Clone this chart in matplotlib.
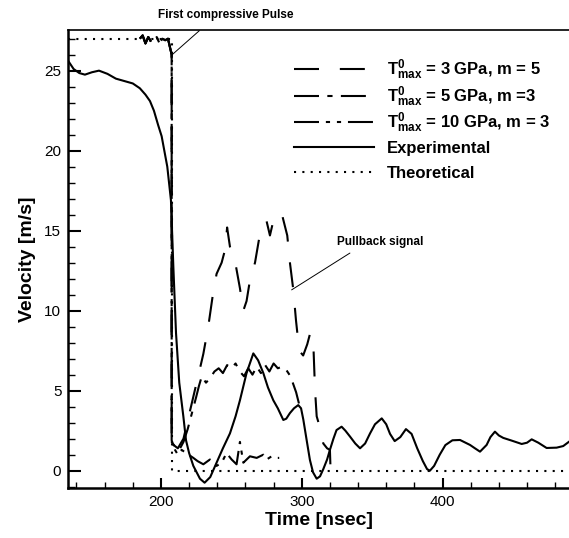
import matplotlib
matplotlib.use("Agg")
import matplotlib.pyplot as plt
from matplotlib.ticker import MultipleLocator

# Données
exp_t = [134.2, 138, 142, 146, 151, 156, 162, 168, 174, 180, 185, 189, 192.2, 195, 198,
         200.5, 204.5, 207.1, 208.8, 210.7, 213.0, 215.9, 217.8, 220, 223, 227.7, 231,
         235, 239.5, 244, 249.0, 253, 256.1, 260.8, 265.6, 269, 272.7, 276, 279.8, 283,
         286.9, 289, 291.6, 294.5, 297.5, 299.5, 301.1, 303.5, 305.8, 308, 310.6, 313,
         315.3, 318, 320.0, 322.5, 324.7, 328.3, 331, 334.3, 338, 341.4, 345, 348.5, 352,
         356.8, 360, 362.7, 366, 370, 374, 378, 382, 386, 389, 391, 394, 398, 402, 407,
         412.4, 419.5, 423, 426.6, 431.3, 434, 437.2, 440, 443.1, 449.1, 456.2, 460,
         463.3, 468.0, 473.9, 481.0, 485.7, 489.8]
exp_v = [25.6, 25.1, 24.85, 24.75, 24.9, 25.0, 24.8, 24.5, 24.35, 24.2, 23.9, 23.5, 23.1,
         22.5, 21.6, 20.9, 19.0, 16.9, 12.75, 8.6, 5.5, 3.4, 1.9, 1.1, 0.3, -0.5, -0.75,
         -0.4, 0.5, 1.4, 2.33, 3.4, 4.4, 6.1, 7.33, 6.9, 6.1, 5.2, 4.4, 3.9, 3.17, 3.25,
         3.6, 3.9, 4.1, 3.9, 3.2, 1.9, 0.67, -0.1, -0.5, -0.35, 0.1, 0.7, 1.3, 2.0, 2.54,
         2.75, 2.5, 2.13, 1.7, 1.4, 1.7, 2.33, 2.9, 3.27, 2.9, 2.3, 1.85, 2.1, 2.6, 2.3,
         1.4, 0.6, 0.1, 0.0, 0.3, 1.0, 1.6, 1.9, 1.92, 1.61, 1.4, 1.19, 1.61, 2.1, 2.44,
         2.2, 2.05, 1.88, 1.67, 1.75, 1.96, 1.75, 1.42, 1.44, 1.54, 1.81]

th_t = [134.2, 207.6, 207.6, 489.8]
th_v = [27.0, 27.0, 0.0, 0.0]

top_t = [185, 187, 189, 191, 193, 195, 197, 199, 201, 203, 205, 207.6]
top_v = [27.0, 27.2, 26.7, 27.1, 26.8, 26.9, 27.1, 26.7, 27.0, 26.9, 27.0, 26.0]

t3 = top_t + [207.6, 212, 216, 220, 224, 228, 230.1, 233.6, 236.7, 239.5, 243.1, 245.5,
              247, 249, 252.6, 256.1, 258.5, 260.8, 263.2, 266.8, 270.3, 271.5, 275.0,
              277.4, 280.3, 283, 285.7, 289.7, 291.6, 294.0, 295.9, 298.2, 301, 303.9,
              306, 308.2, 309.4, 310.6, 312.9, 315.3, 318, 320.0, 320.7]
v3 = top_v + [1.7, 1.4, 2.0, 3.5, 5.0, 6.5, 7.3, 9.0, 10.9, 12.3, 13.0, 13.8, 15.2, 14.0,
              13.1, 11.4, 10.0, 10.6, 11.9, 13.0, 14.8, 15.0, 15.6, 14.7, 15.8, 15.9,
              16.1, 14.7, 13.0, 11.3, 9.4, 7.5, 7.2, 7.9, 8.6, 8.0, 5.1, 3.4, 2.7, 1.7,
              1.4, 1.3, -0.6]

t5 = top_t + [207.6, 210, 213, 216, 219, 222, 225, 227, 229, 232, 235, 238, 241, 244,
              247, 250, 253, 256, 259, 262, 265, 268, 271, 274, 277, 280, 283, 286, 289,
              292, 294, 296, 298]
v5 = top_v + [1.8, 1.5, 1.3, 1.8, 2.6, 3.6, 4.6, 5.3, 5.9, 5.5, 5.8, 6.2, 6.4, 6.1, 6.6,
              6.4, 6.7, 6.2, 5.9, 6.4, 6.0, 6.5, 6.1, 6.6, 6.2, 6.7, 6.4, 6.5, 6.3, 5.9,
              5.4, 4.9, 4.2]

t10 = top_t + [207.6, 210, 212, 214.7, 218, 223, 226, 230.1, 234.8, 239.5, 243.1, 246.6,
               250.2, 253.7, 256.1, 258.5, 263.2, 268, 272.7, 275.1, 278.6, 282.2, 284]
v10 = top_v + [1.9, 1.3, 1.0, 1.3, 1.1, 0.8, 0.6, 0.4, 0.7, 0.3, 0.5, 1.1, 0.7, 0.4, 1.8,
               0.5, 0.9, 0.8, 1.0, 0.7, 0.9, 0.8, 0.8]

model_labels = [r"T$^{0}_{max}$ = 3 GPa, m = 5",
                r"T$^{0}_{max}$ = 5 GPa, m =3",
                r"T$^{0}_{max}$ = 10 GPa, m = 3"]
ref_labels = ["Experimental", "Theoretical"]

plt.rcParams["font.family"] = ["Liberation Sans", "DejaVu Sans"]
plt.rcParams["mathtext.fontset"] = "custom"
plt.rcParams["mathtext.rm"] = "Liberation Sans:bold"
plt.rcParams["mathtext.it"] = "Liberation Sans:bold"
plt.rcParams["mathtext.bf"] = "Liberation Sans:bold"

fig = plt.figure(figsize=(5.69, 5.38), dpi=100)
ax = fig.add_axes([68.3 / 569, 49.7 / 538, 1 - 68.3 / 569, 458.3 / 538])

lw = 1.5
h3, = ax.plot(t3, v3, color="black", lw=lw, ls=(0, (12, 10)))
h5, = ax.plot(t5, v5, color="black", lw=lw, ls=(0, (12, 4, 2.5, 4)))
h10, = ax.plot(t10, v10, color="black", lw=lw, ls=(0, (12, 3.3, 2, 3.3, 2, 3.3)))
hexp, = ax.plot(exp_t, exp_v, color="black", lw=lw)
hth, = ax.plot(th_t, th_v, color="black", lw=lw, ls=(0, (1, 3)))

ax.set_xlim(134.2, 489.8)
ax.set_ylim(-1.1, 27.54)
ax.xaxis.set_major_locator(MultipleLocator(100))
ax.xaxis.set_minor_locator(MultipleLocator(20))
ax.yaxis.set_major_locator(MultipleLocator(5))
ax.yaxis.set_minor_locator(MultipleLocator(1))
ax.tick_params(which="major", direction="in", length=9, width=1.5, labelsize=11, pad=5)
ax.tick_params(which="minor", direction="in", length=5, width=1)
ax.tick_params(axis="x", which="major", length=7)
ax.tick_params(axis="x", which="minor", length=4)

ax.spines["right"].set_visible(False)
ax.spines["left"].set_linewidth(1.8)
ax.spines["bottom"].set_linewidth(1.8)
ax.spines["top"].set_linewidth(1.2)

ax.set_xlabel("Time [nsec]", fontsize=14, fontweight="bold", labelpad=2)
ax.set_ylabel("Velocity [m/s]", fontsize=14, fontweight="bold", labelpad=6)

# Annotations
ax.annotate("", xy=(208, 26.0), xytext=(227.3, 27.5),
            arrowprops=dict(arrowstyle="-", lw=0.7, shrinkA=0, shrinkB=0))
ax.text(246, 28.5, "First compressive Pulse", fontsize=8.5, fontweight="bold",
        ha="center", va="center", clip_on=False)
ax.annotate("", xy=(292.8, 11.3), xytext=(334.2, 13.6),
            arrowprops=dict(arrowstyle="-", lw=0.7, shrinkA=0, shrinkB=0))
ax.text(355.5, 14.3, "Pullback signal", fontsize=8.5, fontweight="bold",
        ha="center", va="center")

# Légende en deux blocs pour garder un pas régulier entre les lignes
leg_kw = dict(loc="upper left", bbox_transform=fig.transFigure, frameon=False,
              prop=dict(weight="bold", size=12), handlelength=4.8,
              handletextpad=0.8, borderpad=0, borderaxespad=0)
leg1 = ax.legend([h3, h5, h10], model_labels, bbox_to_anchor=(294 / 569, 1 - 58 / 538),
                 labelspacing=0.12, **leg_kw)
ax.add_artist(leg1)
ax.legend([hexp, hth], ref_labels, bbox_to_anchor=(294 / 569, 1 - 141 / 538),
          labelspacing=0.6, **leg_kw)

fig.savefig("out.png", dpi=100)
